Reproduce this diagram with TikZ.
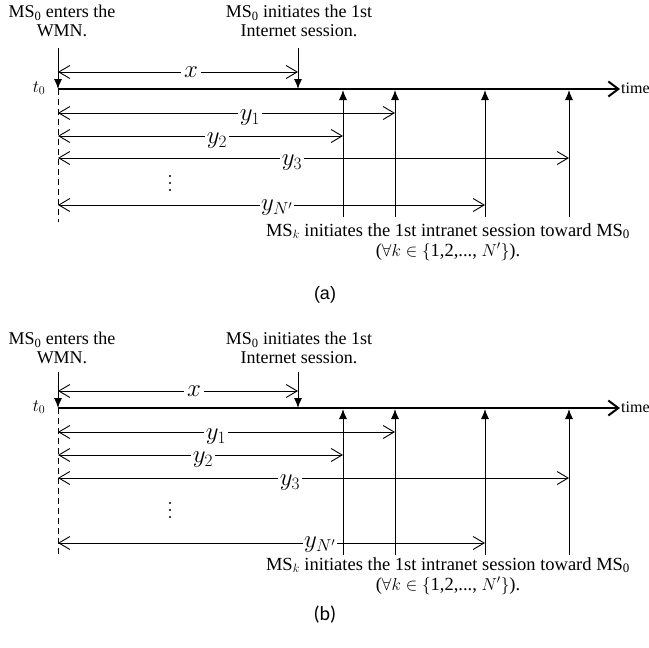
\documentclass[tikz,border=0pt]{standalone}
\usepackage{fontspec}
\setmainfont{Liberation Serif}
\newfontfamily\capsans{Liberation Sans}
\newfontfamily\capcal{Carlito}
\usetikzlibrary{arrows.meta}
\tikzset{
  txt/.style={font=\fontsize{18}{18.5}\selectfont, align=center, inner sep=0pt},
  dim/.style={line width=0.9pt, {Straight Barb[length=11pt,width=13pt]}-{Straight Barb[length=11pt,width=13pt]}},
  evt/.style={line width=1pt, -{Latex[length=10pt,width=8pt]}},
  axis/.style={line width=2pt, -{Straight Barb[length=10pt,width=15pt,line width=2pt]}},
  ylab/.style={fill=white, inner sep=1.5pt, font=\fontsize{26}{26}\selectfont, yshift=-5pt},
  xlabel/.style={fill=white, inner sep=3pt, font=\fontsize{31}{31}\selectfont},
  captxt/.style={font=\fontsize{18.5}{20}\selectfont, align=center, inner sep=0pt},
  dot/.style={circle, fill=black, inner sep=0pt, minimum size=2.2pt}
}
\begin{document}
\begin{tikzpicture}[x=1pt,y=-1pt]
\useasboundingbox (0,0) rectangle (649,648);
% ---------- panel (a)
\begin{scope}[name prefix=a-]
\node[txt] (enter) at (62,21) {MS\textsubscript{0} enters the\\WMN.};
\node[txt] (inet) at (299,21) {MS\textsubscript{0} initiates the 1st\\Internet session.};
\coordinate (t0top) at (58,48);
\coordinate (o) at (58,89);
\coordinate (xtop) at (298,48);
\coordinate (xa) at (298,89);
\coordinate (end) at (620,89);
\node[txt, anchor=west, font=\fontsize{16}{16}\selectfont] (time) at (621,88) {time};
\node[font=\fontsize{17}{17}\selectfont] (t0) at (39,88) {$t_0$};
\draw[evt] (t0top) -- (o);
\draw[evt] (xtop) -- (xa);
\draw[axis] (o) -- (end);
\coordinate (dbot) at (58,222);
\draw[line width=0.9pt, dash pattern=on 6pt off 4pt] (o) -- (dbot);
\foreach \n/\xx in {e1/343,e2/395,e3/485,e4/569}{
  \coordinate (\n b) at (\xx,217);
  \coordinate (\n t) at (\xx,90);
  \draw[evt] (\n b) -- (\n t);
}
\coordinate (xl) at (58,72); \coordinate (xr) at (298,72);
\draw[dim] (xl) -- (xr) node[pos=0.554, xlabel] (xlab) {$x$};
\coordinate (l1) at (58,113); \coordinate (r1) at (395,113);
\coordinate (l2) at (58,136); \coordinate (r2) at (343,136);
\coordinate (l3) at (58,158); \coordinate (r3) at (569,158);
\coordinate (l4) at (58,205); \coordinate (r4) at (485,205);
\draw[dim] (l1) -- (r1);
\draw[dim] (l2) -- (r2);
\draw[dim] (l3) -- (r3);
\draw[dim] (l4) -- (r4);
\node[ylab] (y1) at (250,113) {$y_1$};
\node[ylab] (y2) at (217,136) {$y_2$};
\node[ylab] (y3) at (292,158) {$y_3$};
\node[ylab, yshift=2pt] (yn) at (277,205) {$y_{N'}$};
\node[dot] (d1) at (170,176) {};
\node[dot] (d2) at (170,183) {};
\node[dot] (d3) at (170,190) {};
\node[captxt] (bt) at (448,242) {MS\textsubscript{$k$} initiates the 1st intranet session toward MS\textsubscript{0}\\($\forall k\in\{$1,2,..., $N'\}$).};
\node[font=\capsans\fontsize{18}{18}\selectfont] (lab) at (325,295) {(a)};
\end{scope}
% ---------- panel (b)
\begin{scope}[name prefix=b-]
\node[txt] (enter) at (62,348) {MS\textsubscript{0} enters the\\WMN.};
\node[txt] (inet) at (299,348) {MS\textsubscript{0} initiates the 1st\\Internet session.};
\coordinate (t0top) at (58,372);
\coordinate (o) at (58,408);
\coordinate (xtop) at (298,372);
\coordinate (xa) at (298,408);
\coordinate (end) at (620,408);
\node[txt, anchor=west, font=\fontsize{16}{16}\selectfont] (time) at (621,407) {time};
\node[font=\fontsize{17}{17}\selectfont] (t0) at (39,407) {$t_0$};
\draw[evt] (t0top) -- (o);
\draw[evt] (xtop) -- (xa);
\draw[axis] (o) -- (end);
\coordinate (dbot) at (58,557);
\draw[line width=0.9pt, dash pattern=on 6pt off 4pt] (o) -- (dbot);
\foreach \n/\xx in {e1/343,e2/395,e3/485,e4/569}{
  \coordinate (\n b) at (\xx,555);
  \coordinate (\n t) at (\xx,409);
  \draw[evt] (\n b) -- (\n t);
}
\coordinate (xl) at (58,391); \coordinate (xr) at (298,391);
\draw[dim] (xl) -- (xr) node[pos=0.567, xlabel] (xlab) {$x$};
\coordinate (l1) at (58,432); \coordinate (r1) at (395,432);
\coordinate (l2) at (58,455); \coordinate (r2) at (343,455);
\coordinate (l3) at (58,478); \coordinate (r3) at (569,478);
\coordinate (l4) at (58,543); \coordinate (r4) at (485,543);
\draw[dim] (l1) -- (r1);
\draw[dim] (l2) -- (r2);
\draw[dim] (l3) -- (r3);
\draw[dim] (l4) -- (r4);
\node[ylab] (y1) at (216,432) {$y_1$};
\node[ylab] (y2) at (203,455) {$y_2$};
\node[ylab] (y3) at (290,478) {$y_3$};
\node[ylab, yshift=3pt] (yn) at (320,543) {$y_{N'}$};
\node[dot] (d1) at (170,503) {};
\node[dot] (d2) at (170,510) {};
\node[dot] (d3) at (170,517) {};
\node[captxt] (bt) at (448,576) {MS\textsubscript{$k$} initiates the 1st intranet session toward MS\textsubscript{0}\\($\forall k\in\{$1,2,..., $N'\}$).};
\node[font=\capcal\fontsize{20}{20}\selectfont] (lab) at (325,615) {(b)};
\end{scope}
\end{tikzpicture}
\end{document}
